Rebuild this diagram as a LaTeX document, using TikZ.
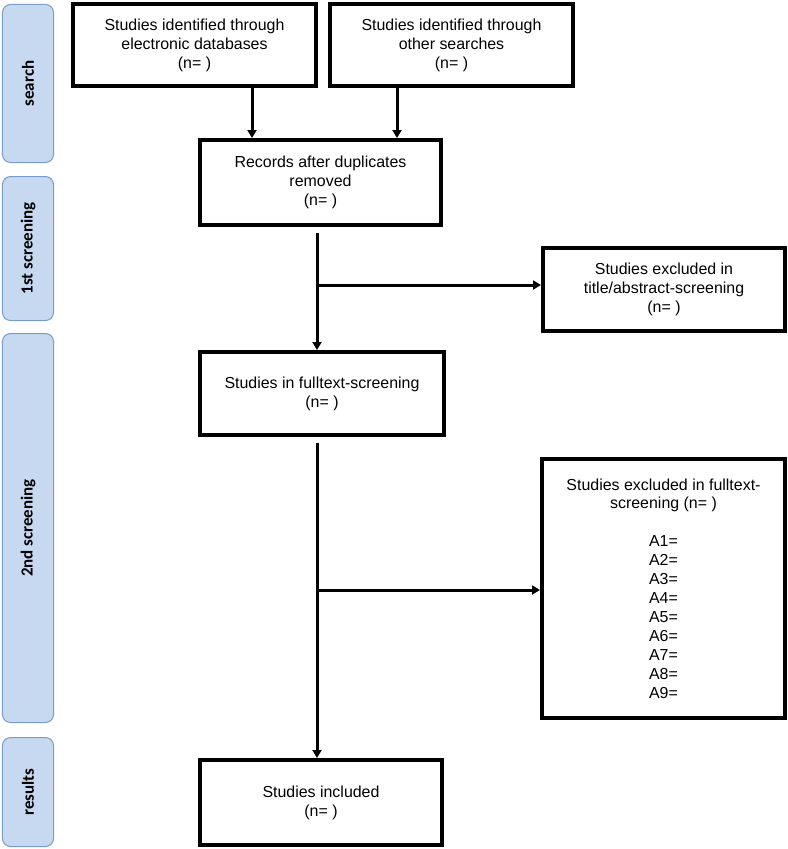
\documentclass[tikz,border=0pt]{standalone}
\usepackage{fontspec}
\setmainfont{Liberation Sans}
\newfontfamily\barfont{Carlito}
\usetikzlibrary{arrows.meta}
\definecolor{barfill}{RGB}{198,217,240}
\definecolor{barline}{RGB}{122,156,200}
\begin{document}
\begin{tikzpicture}[x=1bp,y=-1bp,
  box/.style={draw,line width=4bp,align=center,font=\fontsize{16}{19}\selectfont,inner sep=0pt},
  bar/.style={draw=barline,fill=barfill,line width=1bp,rounded corners=8bp,rotate=90,
    font=\barfont\bfseries\fontsize{17}{20}\selectfont,minimum height=51bp,inner sep=0pt},
  conn/.style={line width=3bp},
  arr/.style={conn,-{Triangle[length=8bp,width=9bp]}}]
\useasboundingbox (0,0) rectangle (788,849);

% phase bars
\node[bar,minimum width=158bp] (s1) at (28,83.5) {search};
\node[bar,minimum width=144bp] (s2) at (28,248.5) {1st screening};
\node[bar,minimum width=389bp] (s3) at (28,528) {2nd screening};
\node[bar,minimum width=109bp] (s4) at (28,792) {results};

% boxes
\node[box,minimum width=243bp,minimum height=82bp] (b1) at (194.5,45) {Studies identified through\\electronic databases\\(n= )};
\node[box,minimum width=243bp,minimum height=82bp] (b2) at (451.5,45) {Studies identified through\\other searches\\(n= )};
\node[box,minimum width=241bp,minimum height=85bp] (b3) at (320.5,182.5) {Records after duplicates\\removed\\(n= )};
\node[box,minimum width=242bp,minimum height=83bp] (b4) at (664,289.5) {Studies excluded in\\title/abstract-screening\\(n= )};
\node[box,minimum width=244bp,minimum height=83bp] (b5) at (322,393.5) {Studies in fulltext-screening\\(n= )};
\node[box,minimum width=243bp,minimum height=259bp] (b6) at (663.5,588.5) {Studies excluded in fulltext-\\screening (n= )\\[19bp]A1=\\A2=\\A3=\\A4=\\A5=\\A6=\\A7=\\A8=\\A9=};
\node[box,minimum width=242bp,minimum height=85bp] (b7) at (321,802.5) {Studies included\\(n= )};

% connectors
\coordinate (xa) at (252,0);
\coordinate (xb) at (397,0);
\coordinate (xm) at (317,0);
\coordinate (j1) at (317,285);
\coordinate (j2) at (317,590);
\draw[arr] (xa |- b1.south) -- (xa |- b3.north);
\draw[arr] (xb |- b2.south) -- (xb |- b3.north);
\draw[arr,shorten <=6bp] (xm |- b3.south) -- (xm |- b5.north);
\draw[arr] (j1) -- (j1 -| b4.west);
\draw[arr,shorten <=6bp] (xm |- b5.south) -- (xm |- b7.north);
\draw[arr] (j2) -- (j2 -| b6.west);
\end{tikzpicture}
\end{document}
